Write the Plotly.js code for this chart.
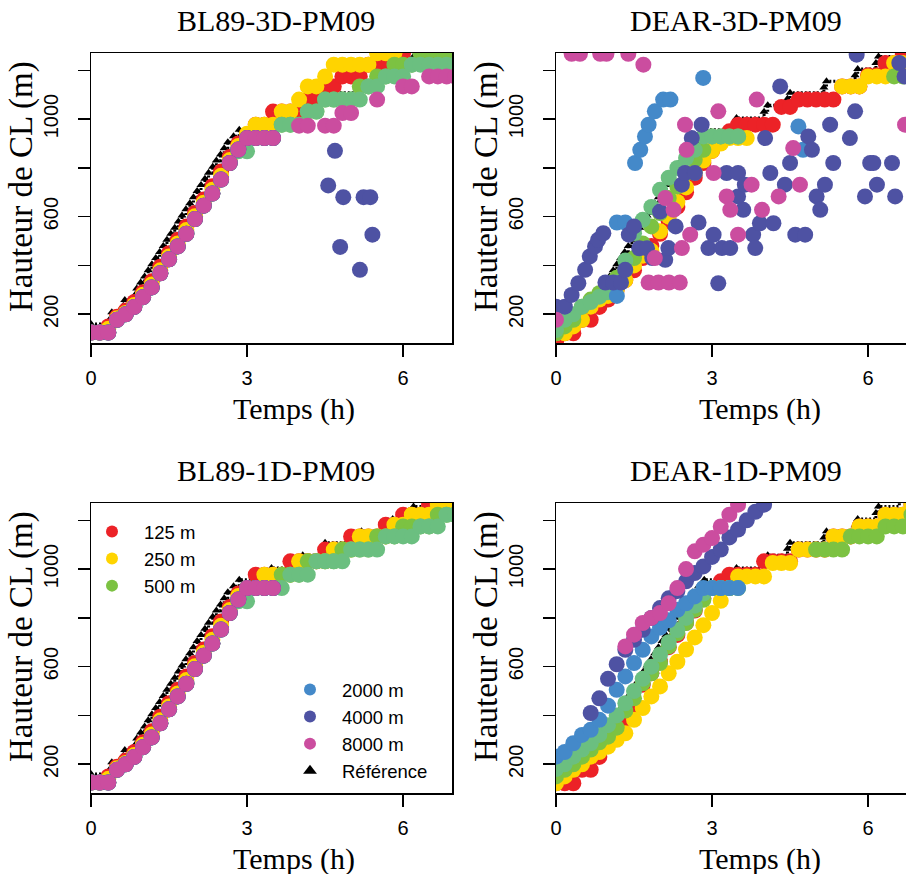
<!DOCTYPE html>
<html><head><meta charset="utf-8">
<script src="https://cdn.plot.ly/plotly-3.0.1.min.js"></script>
<style>html,body{margin:0;padding:0;overflow:hidden;background:#fff;width:906px;height:874px}</style>
</head><body><div id="chart"></div>
<script>
const _ = null;
// time grid (h), 10-min model output
const T = [0,0.167,0.333,0.5,0.667,0.833,1,1.167,1.333,1.5,1.667,1.833,2,2.167,2.333,2.5,2.667,2.833,3,3.167,3.333,3.5,3.667,3.833,4,4.167,4.333,4.5,4.667,4.833,5,5.167,5.333,5.5,5.667,5.833,6,6.167,6.333,6.5,6.667,6.833,7];

// Reference (LES)
const refT = [0,0.38,0.4,0.62,0.65,0.85,0.88,0.955,1.03,1.10,1.17,1.245,1.32,1.39,1.46,1.535,1.61,1.68,1.75,1.825,1.9,1.97,2.04,2.115,2.19,2.26,2.34,2.41,2.49,2.56,2.63,2.74,2.85,3.42,3.47,4.0,4.07,4.45,4.5,5.15,5.2,5.75,5.8,6.15,6.2,6.6];
const refH = [160,185,208,235,258,280,305,330,355,380,405,430,455,480,505,530,555,580,605,630,655,680,705,730,755,780,805,830,855,880,905,930,956,980,1005,1030,1057,1083,1108,1130,1155,1180,1205,1230,1257,1280];

// BL89-3D-PM09
const bl3d_125  = [125,125,150,190,215,250,290,335,395,450,505,560,615,670,725,785,845,900,935,977,977,1031,1031,1031,1031,1080,1080,1134,1134,1175,1175,1175,1223,1223,1223,1270,1270,_,_,_,_,_,_];
const bl3d_250  = [125,125,140,183,205,238,280,322,380,437,490,545,602,657,710,768,832,890,940,977,977,977,1031,1031,1080,1134,1134,1175,1223,1223,1223,1223,1223,1270,1270,1270,_,_,_,_,_,_,_];
const bl3d_500  = [125,125,125,177,200,230,270,310,368,425,478,530,590,645,695,752,820,875,922,922,922,922,977,977,977,1031,1031,1080,1080,1080,1080,1134,1134,1175,1175,1223,1223,1223,1270,1270,1270,1270,1270];
const bl3d_1000 = [125,125,125,177,200,230,270,310,368,425,478,530,590,645,695,752,820,868,868,922,922,922,977,977,977,1031,1031,1080,1080,1080,1080,1080,1134,1134,1175,1175,1175,1223,1223,1223,1223,1223,1223];
const bl3d_2000 = [125,125,125,177,200,230,270,310,368,425,478,530,590,645,695,752,820,875,922,922,922,922,_,_,_,_,_,_,_,_,_,_,_,_,_,_,_,_,_,_,_,_,_];
const bl3d_4000 = [125,125,125,177,200,230,270,310,368,425,478,530,590,645,695,752,820,875,922,922,922,922,_,_,_,_,_,_,_,_,_,_,_,_,_,_,_,_,_,_,_,_,_];
const bl3d_4000_t = [4.56,4.69,4.79,4.85,5.17,5.24,5.37,5.41];
const bl3d_4000_h = [728,870,476,680,382,680,680,526];
const bl3d_8000 = [125,125,125,177,200,230,270,310,368,425,478,530,590,645,695,752,820,875,922,922,922,922,_,_,973,973,_,973,973,1025,1025,_,_,1080,_,_,1134,1134,_,1175,1175,1175,1175];

// DEAR-3D-PM09
const dear3d_125  = [88,122,122,177,177,230,260,300,340,380,430,480,530,580,640,700,760,820,870,922,950,977,977,977,977,977,1050,1050,1080,1080,1080,1080,1080,1134,1134,1134,1180,1180,1230,1230,1264,_,_];
const dear3d_250  = [122,122,150,177,231,260,275,300,340,400,440,460,540,600,660,720,780,830,870,900,922,922,922,_,_,_,_,_,_,_,_,_,_,1134,1134,1134,1175,1175,1175,1230,1230,_,_];
const dear3d_500  = [122,150,177,231,260,286,310,350,382,430,490,560,615,676,724,779,833,874,929,929,929,929,_,_,_,_,_,_,_,_,_,_,_,_,_,_,_,_,_,1175,1175,_,_];
const dear3d_1000 = [135,177,200,231,250,272,290,330,420,532,587,640,710,760,800,840,874,929,929,929,929,929,_,_,_,_,_,_,_,_,_,_,_,_,_,_,_,_,_,_,_,_,_];
const dear3d_2000_t = [1.17,1.17,1.33,1.52,1.62,1.71,1.78,1.9,2.06,2.2,2.83,4.66,4.75];
const dear3d_2000_h = [275,576,576,820,874,929,977,1032,1080,1080,1169,970,874];
const dear3d_4000_t = [0,0.17,0.3,0.43,0.56,0.65,0.75,0.81,0.91,0.95,1.1,1.25,1.33,1.4,1.5,1.6,1.75,1.85,2.0,2.1,2.16,2.3,2.42,2.48,2.61,2.67,2.74,2.8,2.93,3.03,3.12,3.19,3.28,3.35,3.5,3.5,3.6,3.63,3.79,3.83,3.92,4.02,4.12,4.18,4.31,4.4,4.5,4.6,4.79,4.85,4.92,5.01,5.08,5.17,5.27,5.33,5.65,5.75,5.78,5.94,6.04,6.1,6.17,6.46,6.52,6.6,6.7];
const dear3d_4000_h = [231,231,279,327,382,437,478,505,532,330,330,330,382,526,560,470,470,430,621,423,471,560,731,779,922,779,576,977,471,526,327,471,779,471,779,683,628,731,526,471,573,922,779,573,1134,731,820,526,526,929,874,683,628,731,977,820,922,1032,1264,683,820,820,731,820,683,1230,1175];
const dear3d_8000_t = [0,0.3,0.46,0.85,0.97,1.39,1.68,1.78,1.9,1.97,2.1,2.17,2.26,2.38,2.42,2.48,2.51,2.58,3.03,3.12,3.28,3.35,3.5,3.76,3.86,3.96,4.28,4.56,4.69,6.71];
const dear3d_8000_h = [177,1268,1268,1268,1268,1268,1223,330,430,330,676,330,628,330,471,977,874,526,779,1032,683,628,526,731,1080,628,683,881,731,977];

// BL89-1D-PM09
const bl1d_125  = [125,125,150,190,215,250,290,335,395,450,505,560,615,670,725,785,845,900,922,977,977,977,977,1032,1032,1032,1032,1080,1080,1080,1134,1134,1134,1134,1182,1182,1223,1223,1223,1264,1264,1264,_];
const bl1d_250  = [125,125,140,183,205,238,280,322,380,437,490,545,602,657,710,768,832,890,922,922,977,977,977,977,1032,1032,1032,1032,1080,1080,1080,1134,1134,1134,1134,1182,1182,1223,1223,1223,1264,1264,1264];
const bl1d_500  = [125,125,125,177,200,230,270,310,368,425,478,530,590,645,695,752,820,875,922,922,922,922,977,977,977,1032,1032,1032,1032,1080,1080,1080,1080,1134,1134,1134,1175,1175,1175,1175,1223,1223,1223];
const bl1d_1000 = [125,125,125,177,200,230,270,310,368,425,478,530,590,645,695,752,820,868,868,922,922,922,922,977,977,977,1032,1032,1032,1032,1080,1080,1080,1080,1134,1134,1134,1134,1175,1175,1175,1223,1223];
const bl1d_2000 = [125,125,125,177,200,230,270,310,368,425,478,530,590,645,695,752,820,875,922,922,922,922,_,_,_,_,_,_,_,_,_,_,_,_,_,_,_,_,_,_,_,_,_];
const bl1d_4000 = [125,125,125,177,200,230,270,310,368,425,478,530,590,645,695,752,820,875,922,922,922,922,_,_,_,_,_,_,_,_,_,_,_,_,_,_,_,_,_,_,_,_,_];
const bl1d_8000 = [125,125,125,177,200,230,270,310,368,425,478,530,590,645,695,752,820,875,922,922,922,922,_,_,_,_,_,_,_,_,_,_,_,_,_,_,_,_,_,_,_,_,_];

// DEAR-1D-PM09
const dear1d_125  = [122,122,122,177,177,230,327,350,382,430,526,573,620,680,730,780,830,880,922,950,977,977,977,977,1032,1032,1032,1032,1080,1080,1080,1080,1134,1134,1134,1175,1175,1175,1223,1223,1223,1264,1264];
const dear1d_250  = [122,150,177,200,231,250,272,300,327,382,430,478,519,573,620,670,720,770,820,870,922,970,970,970,970,1025,1025,1025,1080,1080,1080,1080,1134,1134,1134,1175,1175,1175,1223,1223,1223,1264,1264];
const dear1d_500  = [150,177,200,231,260,290,313,350,420,470,532,573,615,683,737,779,833,874,922,922,922,922,_,_,_,_,_,_,_,_,1080,1080,1080,1080,1134,1134,1134,1134,1175,1175,1175,1223,1223];
const dear1d_1000 = [180,200,231,260,286,320,360,400,450,500,550,600,650,700,750,800,850,900,922,922,922,_,_,_,_,_,_,_,_,_,_,_,_,_,_,_,_,_,_,_,_,_,_];
const dear1d_2000 = [231,250,286,320,341,382,440,505,560,615,669,724,760,790,833,860,888,922,922,922,922,922,_,_,_,_,_,_,_,_,_,_,_,_,_,_,_,_,_,_,_,_,_];
const dear1d_4000 = [_,_,_,_,410,470,550,610,669,710,751,800,840,880,910,950,984,1011,1050,1080,1130,1162,1200,1235,1264,_,_,_,_,_,_,_,_,_,_,_,_,_,_,_,_,_,_];
const dear1d_8000 = [_,_,_,_,_,_,_,_,683,731,779,800,820,860,922,1000,1073,1100,1127,1175,1223,1264,_,_,_,_,_,_,_,_,_,_,_,_,_,_,_,_,_,_,_,_,_];

const seriesNames = ['125 m','250 m','500 m','1000 m','2000 m','4000 m','8000 m'];
const seriesColors = ['#EC2227','#FFD400','#7CC242','#6BBF80','#4489C9','#4E52A3','#CB4D9F'];
const panelTitles = ['BL89-3D-PM09','DEAR-3D-PM09','BL89-1D-PM09','DEAR-1D-PM09'];
const xTickVals = [0,3,6];
const yTickVals = [200,400,600,800,1000,1200];
const yTickText = ['200','','600','','1000',''];

const panels = [
  {grid:[bl3d_125,bl3d_250,bl3d_500,bl3d_1000,bl3d_2000,bl3d_4000,bl3d_8000], extra:{5:[bl3d_4000_t,bl3d_4000_h]}},
  {grid:[dear3d_125,dear3d_250,dear3d_500,dear3d_1000,null,null,null], extra:{4:[dear3d_2000_t,dear3d_2000_h],5:[dear3d_4000_t,dear3d_4000_h],6:[dear3d_8000_t,dear3d_8000_h]}},
  {grid:[bl1d_125,bl1d_250,bl1d_500,bl1d_1000,bl1d_2000,bl1d_4000,bl1d_8000], extra:{}},
  {grid:[dear1d_125,dear1d_250,dear1d_500,dear1d_1000,dear1d_2000,dear1d_4000,dear1d_8000], extra:{}}
];

const W = 918, H = 874;
const fx = px => px / W;
const fy = py => 1 - py / H;
const serif = '"Liberation Serif", "Times New Roman", serif';
const sans = '"Liberation Sans", Arial, sans-serif';

const traces = [];
const legendPanel = 2;
panels.forEach((p, k) => {
  const xa = k === 0 ? 'x' : 'x' + (k + 1);
  const ya = k === 0 ? 'y' : 'y' + (k + 1);
  traces.push({x: refT, y: refH, xaxis: xa, yaxis: ya, mode: 'lines', line: {shape: 'hv', color: 'black', width: 3, dash: '2px,2px'}, showlegend: false, hoverinfo: 'skip'});
  traces.push({x: refT, y: refH, xaxis: xa, yaxis: ya, mode: 'markers', name: 'Référence',
    marker: {symbol: 'triangle-up', size: 8, color: 'black'},
    showlegend: k === legendPanel, legend: 'legend2', legendrank: 4});
  for (let s = 0; s < 7; s++) {
    let xs = [], ys = [];
    if (p.grid[s]) { xs = xs.concat(T); ys = ys.concat(p.grid[s]); }
    if (p.extra[s]) { xs = xs.concat([null], p.extra[s][0]); ys = ys.concat([null], p.extra[s][1]); }
    traces.push({x: xs, y: ys, xaxis: xa, yaxis: ya, mode: 'markers', name: seriesNames[s],
      marker: {symbol: 'circle', size: 16, color: seriesColors[s], line: {width: 0}},
      showlegend: k === legendPanel && s !== 3,
      legend: s < 3 ? 'legend' : 'legend2', legendrank: s < 3 ? s + 1 : s - 3});
  }
});

const axX = {range: [0, 6.94], tickvals: xTickVals, ticktext: xTickVals.map(String), showline: true, mirror: true, linecolor: 'black', linewidth: 1.5,
  ticks: 'outside', ticklen: 12, tickwidth: 1.5, tickcolor: 'black', showgrid: false, zeroline: false,
  tickfont: {family: sans, size: 20, color: 'black'}, ticklabelstandoff: 4, fixedrange: true};
const axY = {range: [82, 1271], tickvals: yTickVals, ticktext: yTickText, tickangle: -90, showline: true, mirror: true, linecolor: 'black', linewidth: 1.5,
  ticks: 'outside', ticklen: 12, tickwidth: 1.5, tickcolor: 'black', showgrid: false, zeroline: false,
  tickfont: {family: sans, size: 20, color: 'black'}, ticklabelstandoff: 12, fixedrange: true};

const colL = [91, 556], colR = [452, 917];
const rowT = [53, 503], rowB = [343, 793];
const legFont = {family: sans, size: 18.5, color: 'black'};
const layout = {width: W, height: H, margin: {l: 0, r: 0, t: 0, b: 0}, paper_bgcolor: 'white', plot_bgcolor: 'white',
  showlegend: true, annotations: [],
  legend: {x: fx(80), y: fy(513), xanchor: 'left', yanchor: 'top', bgcolor: 'rgba(0,0,0,0)', borderwidth: 0,
    font: legFont, itemsizing: 'constant', itemwidth: 54, tracegroupgap: 0},
  legend2: {x: fx(278), y: fy(671), xanchor: 'left', yanchor: 'top', bgcolor: 'rgba(0,0,0,0)', borderwidth: 0,
    font: legFont, itemsizing: 'constant', itemwidth: 54, tracegroupgap: 0}
};
const titleX = [276, 736], xTitleX = [294, 760];
for (let k = 0; k < 4; k++) {
  const c = k % 2, r = Math.floor(k / 2);
  const sx = k === 0 ? '' : String(k + 1);
  layout['xaxis' + sx] = Object.assign({}, axX, {domain: [fx(colL[c]), fx(colR[c])], anchor: 'y' + sx});
  layout['yaxis' + sx] = Object.assign({}, axY, {domain: [fy(rowB[r]), fy(rowT[r])], anchor: 'x' + sx});
  layout.annotations.push({text: panelTitles[k], xref: 'paper', yref: 'paper', x: fx(titleX[c]), y: fy(20 + 450 * r),
    xanchor: 'center', yanchor: 'middle', showarrow: false, font: {family: serif, size: 30, color: 'black'}});
  layout.annotations.push({text: 'Temps (h)', xref: 'paper', yref: 'paper', x: fx(xTitleX[c]), y: fy(409 + 450 * r),
    xanchor: 'center', yanchor: 'middle', showarrow: false, font: {family: serif, size: 30, color: 'black'}});
  layout.annotations.push({text: 'Hauteur de CL (m)', xref: 'paper', yref: 'paper', x: fx(21 + 465 * c), y: fy(187 + 450 * r),
    xanchor: 'center', yanchor: 'middle', textangle: -90, showarrow: false, font: {family: serif, size: 33, color: 'black'}});
}
Plotly.newPlot('chart', traces, layout, {displayModeBar: false, staticPlot: true});
</script></body></html>
